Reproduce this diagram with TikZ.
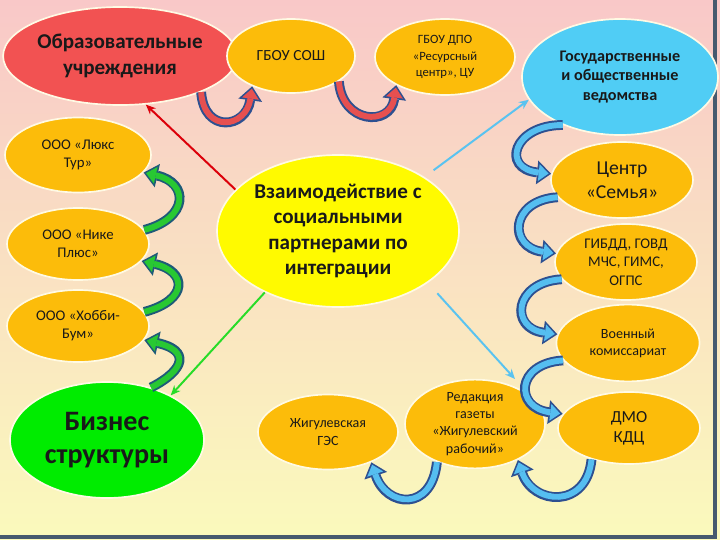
\documentclass[tikz,border=0pt]{standalone}
\usepackage{fontspec}
\setmainfont{Carlito}
\usetikzlibrary{shapes.geometric,arrows.meta}

\definecolor{bgtop}{RGB}{249,200,200}
\definecolor{bgmid}{RGB}{200,245,225}
\definecolor{bgbot}{RGB}{250,250,188}
\definecolor{framecol}{RGB}{70,90,110}
\definecolor{rim}{RGB}{255,250,228}
\definecolor{ink}{RGB}{25,25,25}
\definecolor{amber}{RGB}{252,188,10}
\definecolor{rosered}{RGB}{242,82,82}
\definecolor{skyfill}{RGB}{80,205,245}
\definecolor{bizgreen}{RGB}{0,236,0}
\definecolor{sunfill}{RGB}{255,250,0}
\definecolor{redbody}{RGB}{230,80,80}
\definecolor{greenbody}{RGB}{40,200,50}
\definecolor{bluebody}{RGB}{85,190,240}
\definecolor{navyedge}{RGB}{45,80,145}
\definecolor{tealedge}{RGB}{30,90,120}
\definecolor{redline}{RGB}{220,0,10}
\definecolor{greenline}{RGB}{40,220,40}
\definecolor{blueline}{RGB}{90,195,240}

\begin{document}
\begin{tikzpicture}[x=0.25mm, y=-0.25mm]

    \tikzstyle{partner}=[ellipse, draw=rim, line width=1.2pt, fill=amber, inner sep=0pt, align=center, text=ink]
    \tikzstyle{link}=[line width=1.4pt, -{Stealth[length=7pt, width=6pt]}]
    \tikzset{bent/.style 2 args={line width=4.2pt, draw=#2, shorten >=1.8pt,
                                 -{Triangle[length=7pt, width=12pt, line width=0pt]},
                                 preaction={draw=#1, line width=7pt, shorten >=0pt,
                                            -{Triangle[length=10pt, width=17pt, line width=0pt]}}}}

    \useasboundingbox (0,0) rectangle (720,540);
    \fill[top color=bgtop, middle color=bgmid, bottom color=bgbot] (0,0) rectangle (720,540);
    \draw[framecol, line width=2.2pt] (715,0) -- (715,537) -- (0,537);

    \node[partner, fill=rosered, minimum width=5.1cm, minimum height=2.45cm,
          font=\bfseries\fontsize{15}{18.5}\selectfont] (schools) at (120,56) {Образовательные\\учреждения};
    \node[partner, minimum width=3.2cm, minimum height=1.85cm,
          font=\fontsize{11}{13}\selectfont] (sosh) at (291,56) {ГБОУ СОШ};
    \node[partner, minimum width=3.5cm, minimum height=1.9cm,
          font=\fontsize{9}{11.5}\selectfont] (dpo) at (445,57) {ГБОУ ДПО\\«Ресурсный\\центр», ЦУ};
    \node[partner, fill=skyfill, minimum width=4.9cm, minimum height=2.9cm,
          font=\bfseries\fontsize{11.5}{14}\selectfont] (gov) at (620,77) {Государственные\\и общественные\\ведомства};

    \node[partner, minimum width=3.65cm, minimum height=1.875cm,
          font=\fontsize{10.5}{13}\selectfont] (lux) at (78,155) {ООО «Люкс\\Тур»};
    \node[partner, minimum width=3.55cm, minimum height=1.8cm,
          font=\fontsize{10.5}{13}\selectfont] (nike) at (78,244) {ООО «Нике\\Плюс»};
    \node[partner, minimum width=3.55cm, minimum height=1.8cm,
          font=\fontsize{10.5}{13}\selectfont] (hobby) at (78,326) {ООО «Хобби-\\Бум»};
    \node[partner, fill=bizgreen, minimum width=4.85cm, minimum height=2.9cm,
          font=\bfseries\fontsize{20}{23.5}\selectfont] (business) at (107,440) {Бизнес\\структуры};

    \node[partner, fill=sunfill, minimum width=6.05cm, minimum height=3.8cm,
          font=\bfseries\fontsize{15}{18}\selectfont] (hub) at (338,231) {Взаимодействие с\\социальными\\партнерами по\\интеграции};

    \node[partner, minimum width=3.55cm, minimum height=1.9cm,
          font=\fontsize{14}{17}\selectfont] (family) at (622,180) {Центр\\«Семья»};
    \node[partner, minimum width=3.55cm, minimum height=1.9cm,
          font=\fontsize{10.5}{13}\selectfont] (police) at (626,262) {ГИБДД, ГОВД\\МЧС, ГИМС,\\ОГПС};
    \node[partner, minimum width=3.58cm, minimum height=1.92cm,
          font=\fontsize{10}{12}\selectfont] (army) at (628,343) {Военный\\комиссариат};
    \node[partner, minimum width=3.55cm, minimum height=1.8cm,
          font=\fontsize{12}{14}\selectfont] (dmo) at (629,428) {ДМО\\КДЦ};
    \node[partner, minimum width=3.5cm, minimum height=1.95cm,
          font=\fontsize{10}{12.2}\selectfont] (paper) at (475,424) {Редакция\\газеты\\«Жигулевский\\рабочий»};
    \node[partner, minimum width=3.5cm, minimum height=1.875cm,
          font=\fontsize{10}{12.5}\selectfont] (ges) at (328,432) {Жигулевская\\ГЭС};

    \coordinate (chain) at (515,379);

    \draw[link, redline]                      (hub.158)  -- (schools.-62);
    \draw[link, blueline, shorten <=8pt]      (hub.32)   -- (gov.-166);
    \draw[link, greenline]                    (hub.-140) -- (business.35);
    \draw[link, blueline, shorten <=10pt]     (hub.-30)  -- (chain);

    \draw[bent={navyedge}{redbody}]   (schools.-24) .. controls +(3,42)   and +(-6,42)  .. (sosh.-142);
    \draw[bent={navyedge}{redbody}]   (sosh.-28)    .. controls +(3,42)   and +(-6,42)  .. (dpo.-150);

    \draw[bent={tealedge}{greenbody}] (nike.12)     .. controls +(45,-12) and +(45,10)  .. (lux.-15);
    \draw[bent={tealedge}{greenbody}] (hobby.12)    .. controls +(45,-12) and +(45,10)  .. (nike.-15);
    \draw[bent={tealedge}{greenbody}] (business.50) .. controls +(35,-18) and +(45,10)  .. (hobby.-12);

    \draw[bent={navyedge}{bluebody}]  (gov.-140)    .. controls +(-50,0)  and +(-50,-5) .. (family.175);
    \draw[bent={navyedge}{bluebody}]  (family.-165) .. controls +(-48,3)  and +(-48,-6) .. (police.173);
    \draw[bent={navyedge}{bluebody}]  (police.-165) .. controls +(-48,3)  and +(-48,-6) .. (army.173);
    \draw[bent={navyedge}{bluebody}]  (army.-165)   .. controls +(-48,3)  and +(-48,-6) .. (dmo.168);

    \draw[bent={navyedge}{bluebody}]  (dmo.-140)    .. controls +(-5,50)  and +(15,45)  .. (paper.-40);
    \draw[bent={navyedge}{bluebody}]  (paper.-135)  .. controls +(-5,50)  and +(15,45)  .. (ges.-35);

\end{tikzpicture}
\end{document}
